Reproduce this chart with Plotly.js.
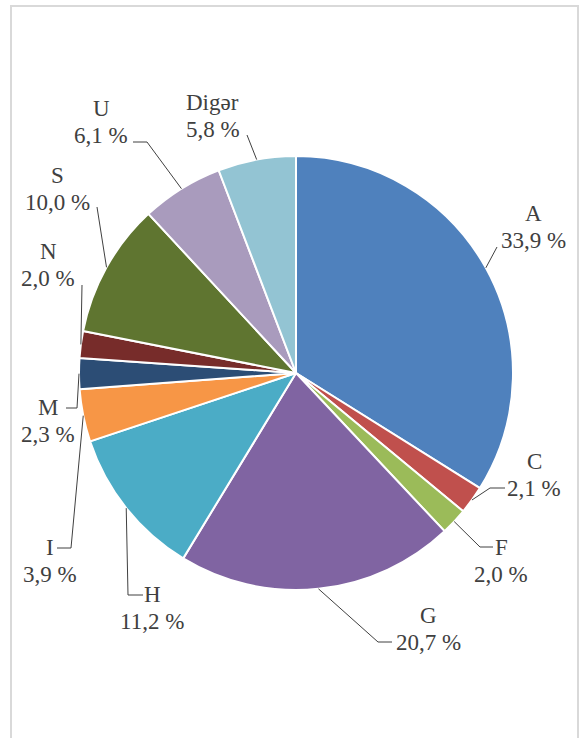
<!DOCTYPE html>
<html>
<head>
<meta charset="utf-8">
<script src="https://cdn.plot.ly/plotly-3.0.1.min.js"></script>
<style>
html,body{margin:0;padding:0;background:#fff;}
#chart{width:579px;height:738px;}
</style>
</head>
<body>
<div id="chart"></div>
<script>
// ---- data ----
const categories = ["A", "C", "F", "G", "H", "I", "M", "N", "S", "U", "Digər"];
const shares = [33.9, 2.1, 2.0, 20.7, 11.2, 3.9, 2.3, 2.0, 10.0, 6.1, 5.8];
const valueLabels = ["33,9 %", "2,1 %", "2,0 %", "20,7 %", "11,2 %", "3,9 %", "2,3 %", "2,0 %", "10,0 %", "6,1 %", "5,8 %"];

// ---- styles / layout ----
const colors = ["#4F81BD", "#C0504D", "#9BBB59", "#8064A2", "#4BACC6", "#F79646",
                "#2C4D75", "#772C2A", "#5F7530", "#A99BBD", "#93C4D3"];
const W = 579, H = 738;
const cx = 296, cy = 373, R = 217;
const LINE_GAP = 27;
// label centres (px)
const labelPos = [[533, 227], [534, 475], [501, 561], [428, 629], [152, 608], [50, 561],
                  [48, 421], [48, 265], [57, 189], [101, 122], [213, 116]];
// leader points near label (px), ordered from label side toward the pie
const leaderPts = [
  [[497, 247]],
  [[505, 488], [490, 488]],
  [[493, 547], [480, 547]],
  [[392, 642], [378, 642]],
  [[143, 595], [128, 595]],
  [[57, 548], [71, 548]],
  [[66, 408], [77, 408]],
  [[82, 285]],
  [[97, 207]],
  [[133, 142], [147, 142]],
  [[247, 135]]
];

const px = x => x / W;
const py = y => 1 - y / H;
const labelFont = {family: "Times New Roman", size: 23, color: "#404040"};

const total = shares.reduce((a, b) => a + b, 0);
let cum = 0;
const annotations = [];
const shapes = [];
shares.forEach((v, i) => {
  const mid = (cum + v / 2) / total * 2 * Math.PI;
  cum += v;
  const ex = cx + R * Math.sin(mid);
  const ey = cy - R * Math.cos(mid);
  const pts = leaderPts[i].concat([[ex, ey]]);
  let path = "M " + px(pts[0][0]) + "," + py(pts[0][1]);
  for (let k = 1; k < pts.length; k++) path += " L " + px(pts[k][0]) + "," + py(pts[k][1]);
  shapes.push({type: "path", xref: "paper", yref: "paper", path: path,
               line: {color: "#404040", width: 1}});
  annotations.push({xref: "paper", yref: "paper", x: px(labelPos[i][0]), y: py(labelPos[i][1] - LINE_GAP / 2),
                    xanchor: "center", yanchor: "middle", showarrow: false,
                    text: categories[i], font: labelFont});
  annotations.push({xref: "paper", yref: "paper", x: px(labelPos[i][0]), y: py(labelPos[i][1] + LINE_GAP / 2),
                    xanchor: "center", yanchor: "middle", showarrow: false,
                    text: valueLabels[i], font: labelFont});
});

// outer frame
shapes.push({type: "rect", xref: "paper", yref: "paper",
             x0: px(11), x1: px(578), y0: py(760), y1: py(6),
             line: {color: "#D9D9D9", width: 2}, fillcolor: "rgba(0,0,0,0)", layer: "below"});

const trace = {
  type: "pie",
  labels: categories,
  values: shares,
  sort: false,
  direction: "clockwise",
  rotation: 0,
  textinfo: "none",
  hoverinfo: "label+percent",
  marker: {colors: colors, line: {color: "#FFFFFF", width: 2}},
  domain: {x: [px(cx - R), px(cx + R)], y: [py(cy + R), py(cy - R)]},
  showlegend: false
};

Plotly.newPlot("chart", [trace], {
  width: W, height: H,
  margin: {l: 0, r: 0, t: 0, b: 0},
  paper_bgcolor: "#FFFFFF",
  font: {family: "Times New Roman"},
  showlegend: false,
  annotations: annotations,
  shapes: shapes
}, {displayModeBar: false});
</script>
</body>
</html>
